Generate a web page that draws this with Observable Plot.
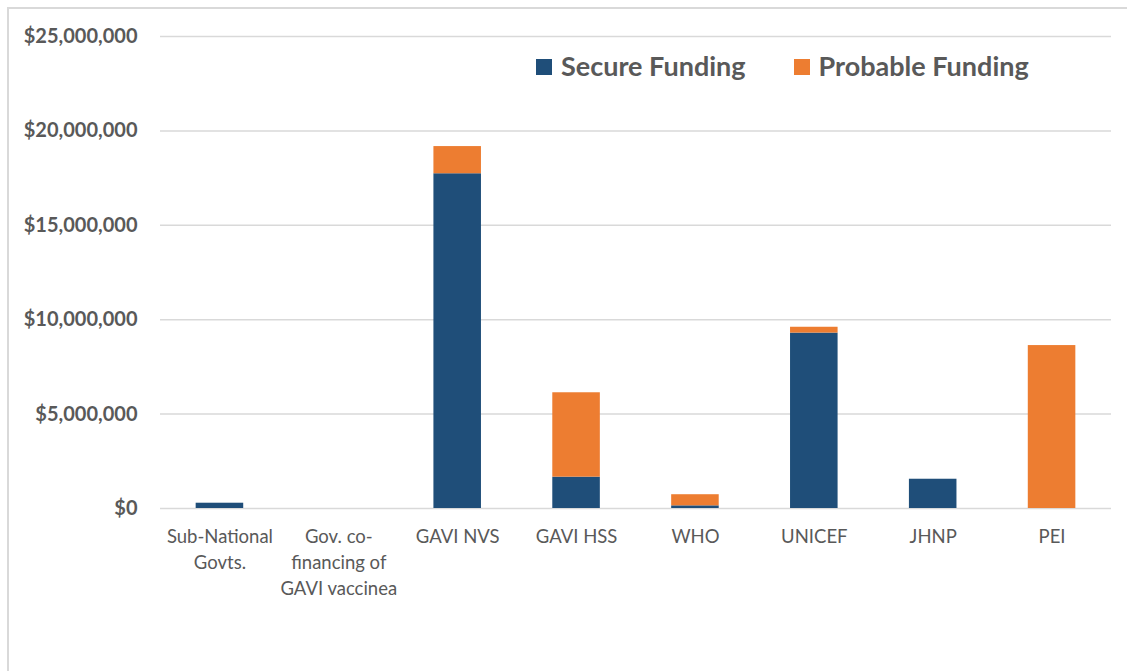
<!DOCTYPE html>
<html>
<head>
<meta charset="utf-8">
<script src="https://cdn.jsdelivr.net/npm/d3@7"></script>
<script src="https://cdn.jsdelivr.net/npm/@observablehq/plot@0.6"></script>
<style>
  html, body { margin: 0; padding: 0; background: #fff; }
  #wrap { position: relative; width: 1127px; height: 671px; overflow: hidden; font-family: Lato, "Open Sans", sans-serif; }
  #frame { position: absolute; left: 7px; top: 7px; width: 1200px; height: 700px; border-top: 2px solid #d9d9d9; border-left: 2px solid #d9d9d9; pointer-events: none; }
  #legend { position: absolute; left: 536px; top: 49px; display: flex; align-items: center; font-weight: 700; font-size: 27px; color: #595959; }
  #legend .item { display: flex; align-items: center; margin-right: 48px; }
  #legend .sw { width: 16px; height: 16px; margin-right: 9px; margin-top: 2px; }
  #chart { position: absolute; left: 0; top: 0; }
</style>
</head>
<body>
<div id="wrap">
  <div id="frame"></div>
  <div id="chart"></div>
  <div id="legend"></div>
</div>
<script>
const categories = ["Sub-National Govts.", "Gov. co-financing of GAVI vaccinea", "GAVI NVS", "GAVI HSS", "WHO", "UNICEF", "JHNP", "PEI"];
const tickLabels = ["Sub-National\nGovts.", "Gov. co-\nfinancing of\nGAVI vaccinea", "GAVI NVS", "GAVI HSS", "WHO", "UNICEF", "JHNP", "PEI"];
const seriesNames = ["Secure Funding", "Probable Funding"];
const seriesColors = ["#1f4e79", "#ed7d31"];
const secureFunding = [280000, 0, 17730000, 1660000, 140000, 9290000, 1550000, 0];
const probableFunding = [0, 0, 1440000, 4470000, 590000, 310000, 0, 8630000];
const yTicks = [0, 5000000, 10000000, 15000000, 20000000, 25000000];

const rows = [];
categories.forEach((c, i) => {
  rows.push({category: c, series: seriesNames[0], value: secureFunding[i]});
  rows.push({category: c, series: seriesNames[1], value: probableFunding[i]});
});
const labelOf = new Map(categories.map((c, i) => [c, tickLabels[i]]));

const chart = Plot.plot({
  width: 1127,
  height: 671,
  marginLeft: 160,
  marginRight: 16,
  marginTop: 36,
  marginBottom: 163,
  style: {fontFamily: "Lato, 'Open Sans', sans-serif", background: "transparent", color: "#595959"},
  x: {domain: categories, paddingInner: 0.6, paddingOuter: 0.3, round: false, label: null},
  y: {domain: [0, 25000000], label: null},
  color: {domain: seriesNames, range: seriesColors},
  marks: [
    Plot.gridY(yTicks, {stroke: "#d9d9d9", strokeOpacity: 1, strokeWidth: 1.5}),
    Plot.barY(rows, Plot.stackY({x: "category", y: "value", fill: "series", order: seriesNames})),
    Plot.axisY({ticks: yTicks, tickSize: 0, tickPadding: 23, label: null, fontSize: 20, fontWeight: 700, fill: "#595959",
      tickFormat: d => "$" + d3.format(",")(d)}),
    Plot.axisX({tickSize: 0, tickPadding: 16, label: null, fontSize: 18.5, lineHeight: 1.4, fill: "#595959",
      tickFormat: d => labelOf.get(d)})
  ]
});
document.getElementById("chart").appendChild(chart);

const legend = document.getElementById("legend");
seriesNames.forEach((s, i) => {
  const item = document.createElement("div");
  item.className = "item";
  const sw = document.createElement("div");
  sw.className = "sw";
  sw.style.background = seriesColors[i];
  const t = document.createElement("span");
  t.textContent = s;
  item.appendChild(sw);
  item.appendChild(t);
  legend.appendChild(item);
});
</script>
</body>
</html>
